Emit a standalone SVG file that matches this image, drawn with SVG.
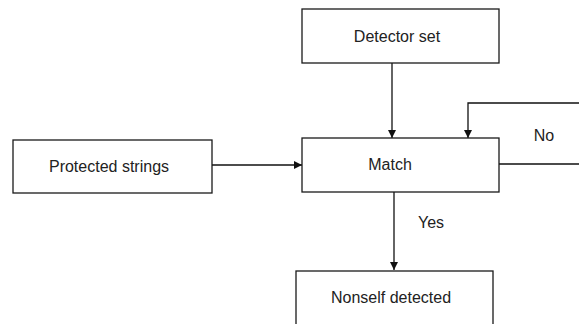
<svg xmlns="http://www.w3.org/2000/svg" width="579" height="324" viewBox="0 0 579 324">
  <style>
    .box { fill: #ffffff; stroke: #1a1a1a; stroke-width: 1.3; }
    .lbl { font-family: "Liberation Sans", Arial, sans-serif; font-size: 16px; fill: #222222; text-anchor: middle; }
    .edge { fill: none; stroke: #111111; stroke-width: 1.3; }
  </style>
  <defs>
    <marker id="arrow" viewBox="0 0 10 10" refX="10" refY="5" markerWidth="8" markerHeight="8" markerUnits="userSpaceOnUse" orient="auto">
      <path d="M0,0 L10,5 L0,10 Z" fill="#111111"/>
    </marker>
  </defs>
  <rect width="579" height="324" fill="#ffffff"/>

  <g id="connectors">
    <line class="edge" x1="392" y1="63" x2="392" y2="138" marker-end="url(#arrow)"/>
    <line class="edge" x1="212" y1="165" x2="302" y2="165" marker-end="url(#arrow)"/>
    <!-- feedback loop runs past the right edge of the canvas -->
    <polyline class="edge" points="499,164 582,164 582,103 468,103 468,138" marker-end="url(#arrow)"/>
    <line class="edge" x1="394" y1="192" x2="394" y2="270" marker-end="url(#arrow)"/>
    <text class="lbl" x="544" y="141">No</text>
    <text class="lbl" x="431" y="228">Yes</text>
  </g>

  <g id="detector-set">
    <rect class="box" x="302" y="9" width="197" height="54"/>
    <text class="lbl" x="397" y="42">Detector set</text>
  </g>

  <g id="match">
    <rect class="box" x="302" y="138" width="197" height="54"/>
    <text class="lbl" x="390" y="170">Match</text>
  </g>

  <g id="protected-strings">
    <rect class="box" x="13" y="140" width="199" height="53"/>
    <text class="lbl" x="109" y="172">Protected strings</text>
  </g>

  <g id="nonself-detected">
    <rect class="box" x="296" y="271" width="197" height="60"/>
    <text class="lbl" x="391" y="303">Nonself detected</text>
  </g>
</svg>
